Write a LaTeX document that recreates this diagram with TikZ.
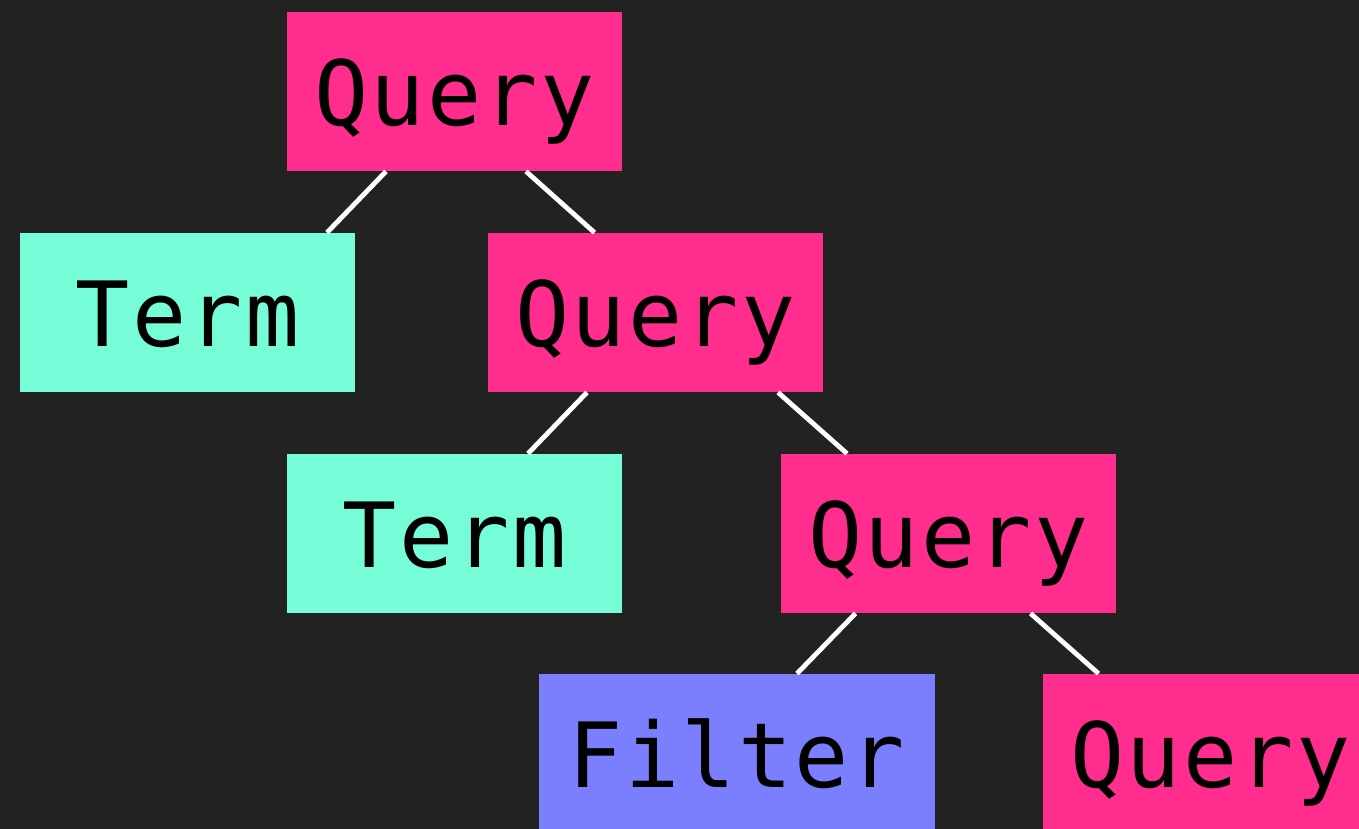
\documentclass[tikz,border=0pt]{standalone}
\usepackage{fontspec}
\setmonofont[LetterSpace=2.5]{DejaVu Sans Mono}
\usepackage{tikz}
\definecolor{BG}{HTML}{222222}
\definecolor{PINK}{HTML}{FF2E8E}
\definecolor{AQUA}{HTML}{76FCD6}
\definecolor{VIOLET}{HTML}{7B7FFD}

\begin{document}
\begin{tikzpicture}[x=0.5pt,y=0.5pt]
\tikzset{box/.style={rectangle,inner sep=0pt,minimum width=167.5pt,minimum height=79.5pt,
 text height=34pt,text depth=0pt,font=\ttfamily\fontsize{45}{45}\selectfont,text=black},
 qry/.style={box,fill=PINK},trm/.style={box,fill=AQUA},flt/.style={box,fill=VIOLET,minimum width=198pt},
 edge/.style={white,line width=2.4pt}}
\fill[BG] (0,0) rectangle (1359,829);
\clip (0,0) rectangle (1359,829);
% tree, one row every 221 units
\node[qry] (q1) at (454.5,737.5) {Query};
\node[trm] (t1) at (187.5,516.5) {Term};
\node[qry] (q2) at (655.5,516.5) {Query};
\node[trm] (t2) at (454.5,295.5) {Term};
\node[qry] (q3) at (948.5,295.5) {Query};
\node[flt] (f1) at (737,75.5) {Filter};
\node[qry] (q4) at (1210.5,75.5) {Query};
% links
\draw[edge] ([xshift=-34.25pt]q1.south) -- ([xshift=69.75pt]t1.north);
\draw[edge] ([xshift=35.75pt]q1.south) -- ([xshift=-30.5pt]q2.north);
\draw[edge] ([xshift=-34.25pt]q2.south) -- ([xshift=36.75pt]t2.north);
\draw[edge] ([xshift=61.25pt]q2.south) -- ([xshift=-50.75pt]q3.north);
\draw[edge] ([xshift=-46.5pt]q3.south) -- ([xshift=30pt]f1.north);
\draw[edge] ([xshift=41pt]q3.south) -- ([xshift=-56pt]q4.north);
\end{tikzpicture}
\end{document}
